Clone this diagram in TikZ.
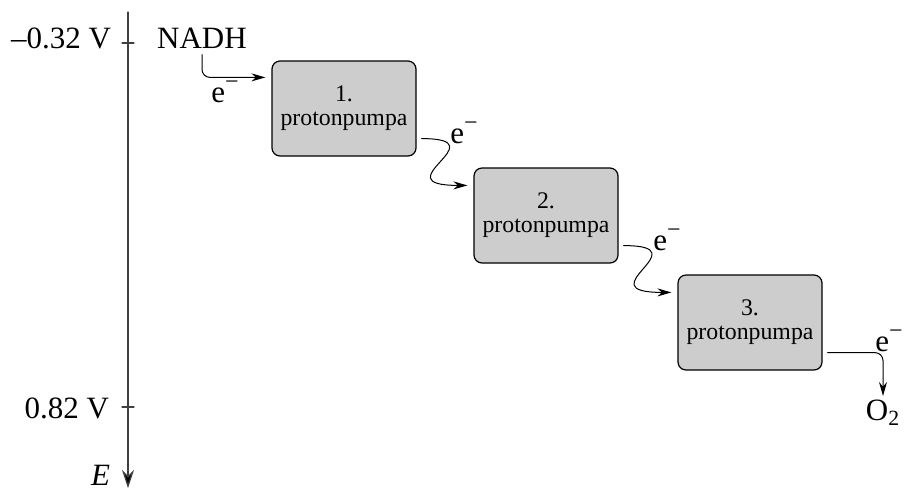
\documentclass[tikz,border=0pt]{standalone}
\usepackage{fontspec}
\setmainfont{Liberation Serif}
\usetikzlibrary{arrows.meta,calc}

\newcommand{\elec}{e\raisebox{0.42em}{\fontsize{12}{12}\selectfont −}}

\begin{document}
\begin{tikzpicture}[x=0.5pt,y=-0.5pt,line cap=round,line join=round]
  % ----- styles & colors -----
  \definecolor{pumpfill}{RGB}{205,205,205}  % light gray
  \tikzset{
    pump/.style={draw=black,fill=pumpfill,rounded corners=4pt,line width=0.6pt,
      minimum width=72pt,minimum height=47.5pt,align=center,inner sep=0pt,
      font=\fontsize{11.9}{12}\selectfont},
    big/.style={font=\fontsize{15.5}{18}\selectfont},
    axis/.style={draw=black!75,line width=0.6pt,-{Stealth[length=9pt,width=6pt,fill=black]}},
    tick/.style={draw=black!75,line width=0.6pt},
    elec/.style={draw=black,line width=0.5pt,-{Stealth[length=7pt,width=4pt]}}
  }
  \useasboundingbox (0,0) rectangle (904,489);

  % ----- energy axis -----
  \coordinate (Etop) at (128,12);
  \coordinate (Ebot) at (128,488);
  \draw[axis] (Etop) -- (Ebot);
  \draw[tick] (128,43) +(-6,0) -- +(6,0);
  \draw[tick] (128,407) +(-6,0) -- +(6,0);
  \node[big,anchor=base east] (vtop) at (118,48) {--0.32 V};
  \node[big,anchor=base east] (vbot) at (116,418) {0.82 V};
  \node[big,anchor=base east] (elab) at (117,485) {\textit{E}};

  % ----- the three pumps -----
  \foreach \i/\x/\y in {1/344/108.5,2/546/215.5,3/750/322.5}{
    \node[pump] (pump\i) at (\x,\y) {\i.\\protonpumpa};
  }

  % ----- donor and acceptor -----
  \node[big,inner sep=3pt] (nadh) at (202,38) {NADH};
  \node[big,inner sep=2pt,anchor=north] (o2) at (883,396) {O\textsubscript{2}};

  % electron paths
  \draw[elec,rounded corners=4pt] (nadh.south) |- ($(pump1.north west)+(-6,17)$);
  \foreach \a/\b in {1/2,2/3}{
    \draw[elec] ($(pump\a.south east)+(5,-18)$) .. controls +(79,0) and +(-88,0) .. ($(pump\b.north west)+(-6,18)$);
  }
  \draw[elec,rounded corners=4pt] ($(pump3.south east)+(5,-18)$) -| (o2.north);

  % e- labels
  \node[big] (enadh) at (225,92) {\elec};
  \node[big] (epump1) at (464,133) {\elec};
  \node[big] (epump2) at (667,240) {\elec};
  \node[big] (epump3) at (889,341) {\elec};

\end{tikzpicture}
\end{document}
